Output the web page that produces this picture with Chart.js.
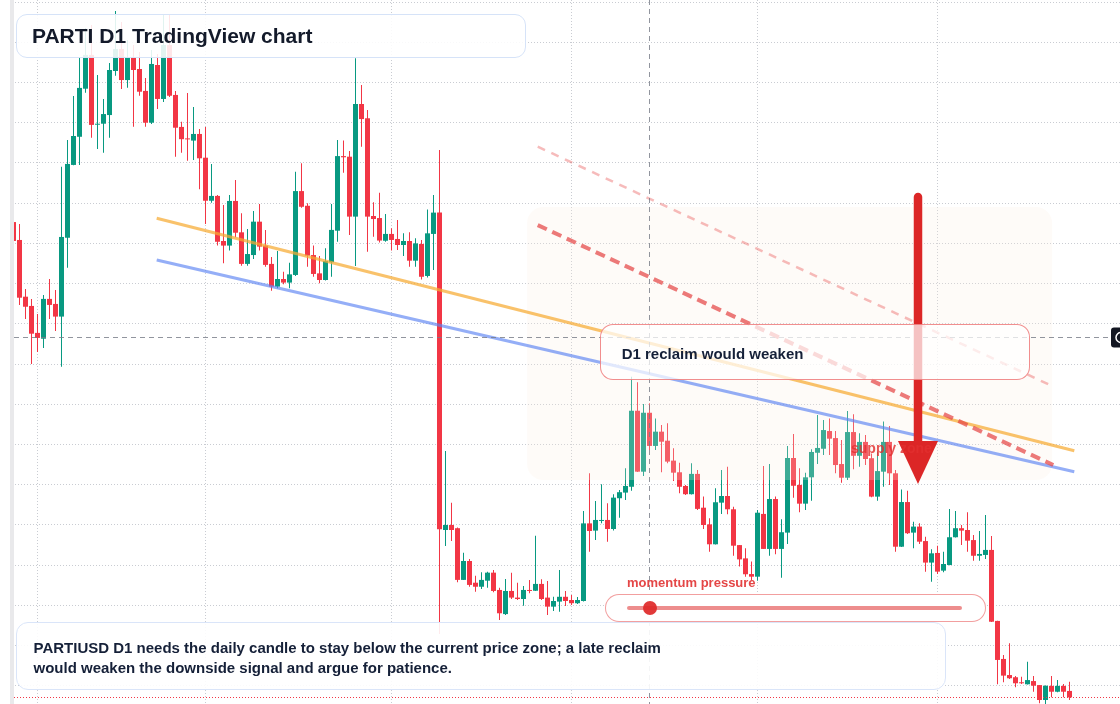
<!DOCTYPE html>
<html lang="en">
<head>
<meta charset="utf-8">
<title>PARTI D1 TradingView chart</title>
<script src="https://cdn.jsdelivr.net/npm/chart.js@4.4.1/dist/chart.umd.min.js"></script>
<style>
  html, body { margin: 0; padding: 0; background: #ffffff; }
  #stage { position: relative; width: 1120px; height: 704px; overflow: hidden; background: #ffffff;
           font-family: "Liberation Sans", Arial, Helvetica, sans-serif; }
  #chart { position: absolute; left: 0; top: 0; z-index: 2; }
  .zone-label { position: absolute; left: 851px; top: 440px; z-index: 3; white-space: nowrap;
                font-weight: bold; font-size: 14px; line-height: 16px; color: rgba(226, 48, 48, 0.82); }
  .box { position: absolute; z-index: 3; box-sizing: border-box; white-space: nowrap; }
  .title-box { left: 16px; top: 14px; width: 510px; height: 44px; padding: 8.5px 0 0 15px;
               border: 1.5px solid #d6e3f8; border-radius: 11px; background: rgba(255, 255, 255, 0.88);
               font-weight: bold; font-size: 21px; line-height: 24px; color: #131a2a; }
  .note-box { left: 16px; top: 622px; width: 930px; height: 68px; padding: 14.8px 0 0 16.5px;
              border: 1.5px solid #dae5f9; border-radius: 12px; background: rgba(255, 255, 255, 0.9);
              font-weight: bold; font-size: 15px; line-height: 20px; color: #152038; }
  .callout { left: 600px; top: 324px; width: 430px; height: 56px; padding: 18.8px 0 0 20.7px;
             border: 1.5px solid rgba(236, 104, 104, 0.75); border-radius: 13px; background: rgba(255, 255, 255, 0.72);
             font-weight: bold; font-size: 15px; line-height: 20px; color: #152038; }
  .momentum-label { left: 627px; top: 574.5px; font-weight: bold; font-size: 13px; line-height: 16px;
                    color: rgba(224, 44, 44, 0.88); }
  .pill { left: 605px; top: 594px; width: 381px; height: 28px; border: 1.5px solid rgba(236, 118, 118, 0.7);
          border-radius: 14px; background: #ffffff; }
  .track { left: 627px; top: 606px; width: 335px; height: 4px; border-radius: 2px; background: rgba(230, 92, 92, 0.7); }
  .knob { left: 643px; top: 601px; width: 14px; height: 14px; border-radius: 50%; background: rgba(222, 40, 40, 0.92); }
</style>
</head>
<body>
<div id="stage">
  <canvas id="chart" width="1120" height="704"></canvas>
  <div class="zone-label">supply zone</div>
  <div class="box title-box">PARTI D1 TradingView chart</div>
  <div class="box callout">D1 reclaim would weaken</div>
  <div class="box momentum-label">momentum pressure</div>
  <div class="box pill"></div>
  <div class="box track"></div>
  <div class="box knob"></div>
  <div class="box note-box">PARTIUSD D1 needs the daily candle to stay below the current price zone; a late reclaim<br>would weaken the downside signal and argue for patience.</div>
</div>
<script>
"use strict";

/* ---------- daily OHLC (one entry per D1 candle) ---------- */
const opens = [
  0.2906, 0.2817, 0.2535, 0.2489, 0.2355, 0.2326, 0.2524, 0.2499, 0.2436, 0.2828,
  0.3190, 0.3330, 0.3569, 0.3737, 0.3390, 0.3395, 0.3438, 0.3657, 0.3766, 0.3612,
  0.3722, 0.3667, 0.3558, 0.3400, 0.3687, 0.3518, 0.3786, 0.3538, 0.3379, 0.3320,
  0.3311, 0.3344, 0.3226, 0.3012, 0.3036, 0.2812, 0.2789, 0.3011, 0.2855, 0.2698,
  0.2742, 0.2908, 0.2789, 0.2698, 0.2585, 0.2623, 0.2605, 0.2643, 0.3060, 0.2987,
  0.2742, 0.2651, 0.2618, 0.2706, 0.2863, 0.3234, 0.3231, 0.2933, 0.3493, 0.3422,
  0.2936, 0.2926, 0.2813, 0.2847, 0.2822, 0.2792, 0.2812, 0.2714, 0.2797, 0.2638,
  0.2847, 0.2953, 0.1375, 0.1400, 0.1384, 0.1127, 0.1221, 0.1113, 0.1093, 0.1123,
  0.1163, 0.1077, 0.0957, 0.1072, 0.1039, 0.1032, 0.1077, 0.1073, 0.1107, 0.1039,
  0.0994, 0.1019, 0.1043, 0.1027, 0.1011, 0.1022, 0.1408, 0.1372, 0.1420, 0.1425,
  0.1380, 0.1533, 0.1561, 0.1590, 0.1968, 0.1665, 0.1958, 0.1793, 0.1864, 0.1819,
  0.1720, 0.1662, 0.1594, 0.1553, 0.1654, 0.1486, 0.1403, 0.1304, 0.1511, 0.1544,
  0.1478, 0.1300, 0.1234, 0.1156, 0.1143, 0.1455, 0.1281, 0.1529, 0.1281, 0.1362,
  0.1733, 0.1599, 0.1506, 0.1637, 0.1759, 0.1779, 0.1867, 0.1832, 0.1703, 0.1635,
  0.1862, 0.1744, 0.1813, 0.1732, 0.1541, 0.1665, 0.1813, 0.1657, 0.1292, 0.1514,
  0.1362, 0.1392, 0.1320, 0.1213, 0.1261, 0.1173, 0.1201, 0.1339, 0.1384, 0.1375,
  0.1325, 0.1247, 0.1251, 0.1276, 0.0923, 0.0734, 0.0654, 0.0643, 0.0616, 0.0608,
  0.0624, 0.0604, 0.0530, 0.0600, 0.0571, 0.0600, 0.0575
];
const highs = [
  0.2926, 0.2896, 0.2573, 0.2524, 0.2449, 0.2543, 0.2623, 0.2568, 0.3181, 0.3314,
  0.3533, 0.3722, 0.3871, 0.3886, 0.3637, 0.3518, 0.3697, 0.3955, 0.3901, 0.3811,
  0.3786, 0.3752, 0.3622, 0.3761, 0.3742, 0.3935, 0.3935, 0.3558, 0.3405, 0.3548,
  0.3478, 0.3369, 0.3379, 0.3195, 0.3041, 0.2991, 0.3041, 0.3115, 0.2950, 0.2872,
  0.2961, 0.2996, 0.2867, 0.2732, 0.2762, 0.2659, 0.2704, 0.3156, 0.3198, 0.2999,
  0.2789, 0.2737, 0.2776, 0.2996, 0.3314, 0.3311, 0.3259, 0.3720, 0.3587, 0.3463,
  0.3004, 0.3052, 0.2946, 0.2875, 0.2916, 0.2850, 0.2855, 0.2825, 0.2817, 0.2969,
  0.3041, 0.3264, 0.1768, 0.1511, 0.1387, 0.1262, 0.1231, 0.1148, 0.1165, 0.1168,
  0.1176, 0.1088, 0.1131, 0.1163, 0.1113, 0.1097, 0.1127, 0.1347, 0.1130, 0.1122,
  0.1043, 0.1176, 0.1072, 0.1052, 0.1042, 0.1470, 0.1657, 0.1519, 0.1602, 0.1508,
  0.1553, 0.1574, 0.1682, 0.2137, 0.2109, 0.2002, 0.2005, 0.1930, 0.1897, 0.1906,
  0.1781, 0.1710, 0.1599, 0.1707, 0.1673, 0.1541, 0.1433, 0.1582, 0.1673, 0.1690,
  0.1491, 0.1301, 0.1284, 0.1218, 0.1475, 0.1693, 0.1703, 0.1541, 0.1428, 0.1793,
  0.1852, 0.1682, 0.1660, 0.1776, 0.1947, 0.1922, 0.1930, 0.1867, 0.1823, 0.1967,
  0.1950, 0.1856, 0.1847, 0.1756, 0.1764, 0.1914, 0.1892, 0.1673, 0.1577, 0.1570,
  0.1416, 0.1408, 0.1342, 0.1279, 0.1297, 0.1267, 0.1480, 0.1470, 0.1400, 0.1463,
  0.1350, 0.1370, 0.1450, 0.1345, 0.0924, 0.0754, 0.0812, 0.0649, 0.0646, 0.0720,
  0.0649, 0.0605, 0.0602, 0.0649, 0.0629, 0.0609, 0.0621
];
const lows = [
  0.2787, 0.2494, 0.2424, 0.2200, 0.2260, 0.2280, 0.2424, 0.2364, 0.2187, 0.2679,
  0.3188, 0.3190, 0.3549, 0.3325, 0.3269, 0.3251, 0.3325, 0.3634, 0.3568, 0.3574,
  0.3380, 0.3534, 0.3380, 0.3394, 0.3468, 0.3503, 0.3528, 0.3231, 0.3251, 0.3211,
  0.3215, 0.3069, 0.2896, 0.3002, 0.2789, 0.2701, 0.2764, 0.2830, 0.2689, 0.2689,
  0.2722, 0.2764, 0.2684, 0.2565, 0.2577, 0.2597, 0.2577, 0.2638, 0.2977, 0.2684,
  0.2634, 0.2602, 0.2615, 0.2634, 0.2808, 0.3151, 0.2842, 0.2688, 0.3281, 0.2759,
  0.2833, 0.2805, 0.2808, 0.2764, 0.2767, 0.2737, 0.2684, 0.2684, 0.2621, 0.2631,
  0.2668, 0.0858, 0.1296, 0.1320, 0.1115, 0.1126, 0.1093, 0.1068, 0.1082, 0.1088,
  0.1065, 0.0928, 0.0953, 0.1032, 0.1027, 0.0999, 0.1060, 0.1072, 0.1027, 0.0953,
  0.0972, 0.0969, 0.0997, 0.1002, 0.1007, 0.1019, 0.1267, 0.1325, 0.1408, 0.1317,
  0.1372, 0.1436, 0.1524, 0.1570, 0.1664, 0.1644, 0.1773, 0.1773, 0.1662, 0.1707,
  0.1619, 0.1558, 0.1549, 0.1552, 0.1475, 0.1380, 0.1267, 0.1303, 0.1455, 0.1453,
  0.1247, 0.1193, 0.1143, 0.1127, 0.1123, 0.1280, 0.1247, 0.1254, 0.1138, 0.1305,
  0.1536, 0.1463, 0.1475, 0.1521, 0.1703, 0.1748, 0.1748, 0.1657, 0.1610, 0.1624,
  0.1677, 0.1690, 0.1698, 0.1538, 0.1521, 0.1590, 0.1599, 0.1267, 0.1291, 0.1355,
  0.1284, 0.1305, 0.1168, 0.1118, 0.1156, 0.1165, 0.1200, 0.1338, 0.1300, 0.1267,
  0.1222, 0.1222, 0.1231, 0.0918, 0.0608, 0.0618, 0.0634, 0.0593, 0.0609, 0.0607,
  0.0571, 0.0514, 0.0510, 0.0543, 0.0568, 0.0543, 0.0530
];
const closes = [
  0.2812, 0.2530, 0.2485, 0.2351, 0.2330, 0.2524, 0.2494, 0.2436, 0.2832, 0.3195,
  0.3334, 0.3573, 0.3737, 0.3389, 0.3394, 0.3443, 0.3662, 0.3766, 0.3612, 0.3722,
  0.3662, 0.3554, 0.3400, 0.3692, 0.3518, 0.3786, 0.3534, 0.3375, 0.3318, 0.3317,
  0.3344, 0.3223, 0.3012, 0.3036, 0.2808, 0.2789, 0.3011, 0.2853, 0.2698, 0.2747,
  0.2908, 0.2784, 0.2693, 0.2585, 0.2623, 0.2605, 0.2646, 0.3060, 0.2982, 0.2739,
  0.2648, 0.2618, 0.2712, 0.2867, 0.3234, 0.3228, 0.2933, 0.3493, 0.3418, 0.2933,
  0.2921, 0.2814, 0.2847, 0.2817, 0.2792, 0.2812, 0.2714, 0.2800, 0.2634, 0.2850,
  0.2953, 0.1379, 0.1400, 0.1375, 0.1127, 0.1221, 0.1102, 0.1093, 0.1127, 0.1163,
  0.1072, 0.0961, 0.1072, 0.1039, 0.1032, 0.1077, 0.1072, 0.1107, 0.1032, 0.0994,
  0.1022, 0.1043, 0.1022, 0.1011, 0.1027, 0.1408, 0.1370, 0.1425, 0.1425, 0.1380,
  0.1536, 0.1563, 0.1594, 0.1968, 0.1665, 0.1958, 0.1793, 0.1864, 0.1814, 0.1715,
  0.1660, 0.1590, 0.1553, 0.1654, 0.1480, 0.1400, 0.1304, 0.1513, 0.1544, 0.1478,
  0.1297, 0.1229, 0.1155, 0.1143, 0.1461, 0.1281, 0.1529, 0.1281, 0.1364, 0.1733,
  0.1595, 0.1506, 0.1637, 0.1763, 0.1783, 0.1872, 0.1829, 0.1698, 0.1635, 0.1862,
  0.1744, 0.1813, 0.1728, 0.1541, 0.1668, 0.1813, 0.1657, 0.1292, 0.1514, 0.1359,
  0.1392, 0.1317, 0.1213, 0.1259, 0.1168, 0.1206, 0.1339, 0.1384, 0.1372, 0.1322,
  0.1247, 0.1256, 0.1276, 0.0919, 0.0729, 0.0651, 0.0638, 0.0613, 0.0613, 0.0629,
  0.0601, 0.0530, 0.0601, 0.0571, 0.0600, 0.0571, 0.0543
];

/* ---------- axes: price grid every 0.02, time grid at month starts (candle index) ---------- */
const priceTicks = [0.06, 0.08, 0.10, 0.12, 0.14, 0.16, 0.18, 0.20, 0.22, 0.24, 0.26, 0.28, 0.30, 0.32, 0.34, 0.36, 0.38, 0.40];
const monthStartIdx = [4, 32, 63, 93, 124, 154];

/* ---------- drawings (candle index, price) ---------- */
const orangeTrend = [[23.87, 0.2925], [176.8, 0.1769]];
const blueTrend = [[23.87, 0.2717], [176.8, 0.1665]];
const supplyRail = [[87.37, 0.2891], [173.3, 0.1698]];
const outerRail = [[87.37, 0.3281], [173.1, 0.2091]];
const zoneIdx = [85.6, 173.1];
const zonePrice = [0.2981, 0.1624];
const arrowIdx = 150.75;
const arrowPrices = [0.3031, 0.1818, 0.1604]; // shaft top, head base, tip
const crosshairIdx = 106;
const crosshairPrice = 0.2330;

const GREEN = "#089981";
const RED = "#f23645";
const GRID = "rgba(165, 170, 180, 0.6)";

const candleIndex = opens.map((_, i) => i);
const candleColors = candleIndex.map(i => (closes[i] >= opens[i] ? GREEN : RED));
const toPoints = pts => pts.map(([x, y]) => ({ x, y }));

const lineSet = (label, pts, color, width, dash) => ({
  type: "line", label, data: toPoints(pts),
  borderColor: color, borderWidth: width, borderDash: dash || [],
  pointRadius: 0, fill: false, tension: 0
});

const BODY_DATASET = 4;

const overlayPlugin = {
  id: "overlay",
  // supply zone wash sits over candles but under the drawn rails
  afterDatasetDraw(chart, args) {
    if (args.index !== BODY_DATASET) return;
    const { ctx, scales: { x, y } } = chart;
    const left = x.getPixelForValue(zoneIdx[0]);
    const right = x.getPixelForValue(zoneIdx[1]);
    const top = y.getPixelForValue(zonePrice[0]);
    const bottom = y.getPixelForValue(zonePrice[1]);
    ctx.save();
    ctx.fillStyle = "rgba(250, 236, 224, 0.22)";
    ctx.beginPath();
    ctx.roundRect(left, top, right - left, bottom - top, 16);
    ctx.fill();
    ctx.restore();
  },
  afterDatasetsDraw(chart) {
    const { ctx, scales: { x, y }, width, height } = chart;
    ctx.save();

    // crosshair
    ctx.strokeStyle = "rgba(118, 122, 134, 0.8)";
    ctx.lineWidth = 1;
    ctx.setLineDash([5, 4]);
    const cx = Math.floor(x.getPixelForValue(crosshairIdx)) + 0.5;
    const cy = Math.floor(y.getPixelForValue(crosshairPrice)) + 0.5;
    ctx.beginPath(); ctx.moveTo(cx, 0); ctx.lineTo(cx, height); ctx.stroke();
    ctx.beginPath(); ctx.moveTo(14, cy); ctx.lineTo(1111, cy); ctx.stroke();

    // last price line
    const ly = Math.floor(y.getPixelForValue(closes[closes.length - 1])) + 0.5;
    ctx.strokeStyle = RED;
    ctx.setLineDash([1, 2]);
    ctx.beginPath(); ctx.moveTo(14, ly); ctx.lineTo(width, ly); ctx.stroke();
    ctx.setLineDash([]);

    // downside arrow
    const ax = x.getPixelForValue(arrowIdx);
    const [aTop, aBase, aTip] = arrowPrices.map(p => y.getPixelForValue(p));
    ctx.strokeStyle = "#dc2626";
    ctx.lineWidth = 8.5;
    ctx.lineCap = "round";
    ctx.beginPath(); ctx.moveTo(ax, aTop); ctx.lineTo(ax, aBase + 2); ctx.stroke();
    ctx.fillStyle = "#dc2626";
    ctx.beginPath();
    ctx.moveTo(ax - 20, aBase); ctx.lineTo(ax + 20, aBase); ctx.lineTo(ax, aTip);
    ctx.closePath(); ctx.fill();

    // left edge strip
    ctx.fillStyle = "#ffffff";
    ctx.fillRect(0, 0, 10, height);
    ctx.fillStyle = "#e9e9eb";
    ctx.fillRect(10, 0, 4, height);

    // crosshair tag on the right edge
    ctx.fillStyle = "#131722";
    ctx.beginPath(); ctx.roundRect(1111, cy - 10, 14, 20, 3); ctx.fill();
    ctx.strokeStyle = "#ffffff";
    ctx.lineWidth = 1.5;
    ctx.beginPath(); ctx.arc(1121, cy, 5, 0, Math.PI * 2); ctx.stroke();

    ctx.restore();
  }
};

new Chart(document.getElementById("chart"), {
  type: "bar",
  data: {
    datasets: [
      lineSet("Outer rail", outerRail, "rgba(236, 104, 104, 0.45)", 2.5, [8, 7]),
      lineSet("Supply rail", supplyRail, "rgba(228, 70, 70, 0.72)", 4, [10, 6]),
      lineSet("Orange trend", orangeTrend, "rgba(247, 170, 50, 0.72)", 3),
      lineSet("Blue trend", blueTrend, "rgba(92, 132, 243, 0.66)", 3),
      {
        type: "bar", label: "Body",
        data: candleIndex.map(i => ({ x: i, y: [opens[i], closes[i]] })),
        backgroundColor: candleColors, borderWidth: 0,
        barThickness: 5, minBarLength: 1, grouped: false, inflateAmount: 0
      },
      {
        type: "bar", label: "Wick",
        data: candleIndex.map(i => ({ x: i, y: [lows[i], highs[i]] })),
        backgroundColor: candleColors, borderWidth: 0,
        barThickness: 1, grouped: false, inflateAmount: 0
      }
    ]
  },
  options: {
    responsive: false,
    animation: false,
    devicePixelRatio: 1,
    events: [],
    layout: { padding: 0 },
    plugins: { legend: { display: false }, tooltip: { enabled: false } },
    scales: {
      x: {
        type: "linear", min: -2.25, max: 184.4167, offset: false,
        afterBuildTicks: scale => { scale.ticks = monthStartIdx.map(v => ({ value: v })); },
        ticks: { display: false },
        grid: { color: GRID, drawTicks: false, offset: false },
        border: { display: false, dash: [1, 2] }
      },
      y: {
        type: "linear", min: 0.051, max: 0.401, beginAtZero: false,
        afterBuildTicks: scale => { scale.ticks = priceTicks.map(v => ({ value: v })); },
        ticks: { display: false },
        grid: { color: GRID, drawTicks: false },
        border: { display: false, dash: [1, 2] }
      }
    }
  },
  plugins: [overlayPlugin]
});
</script>
</body>
</html>
